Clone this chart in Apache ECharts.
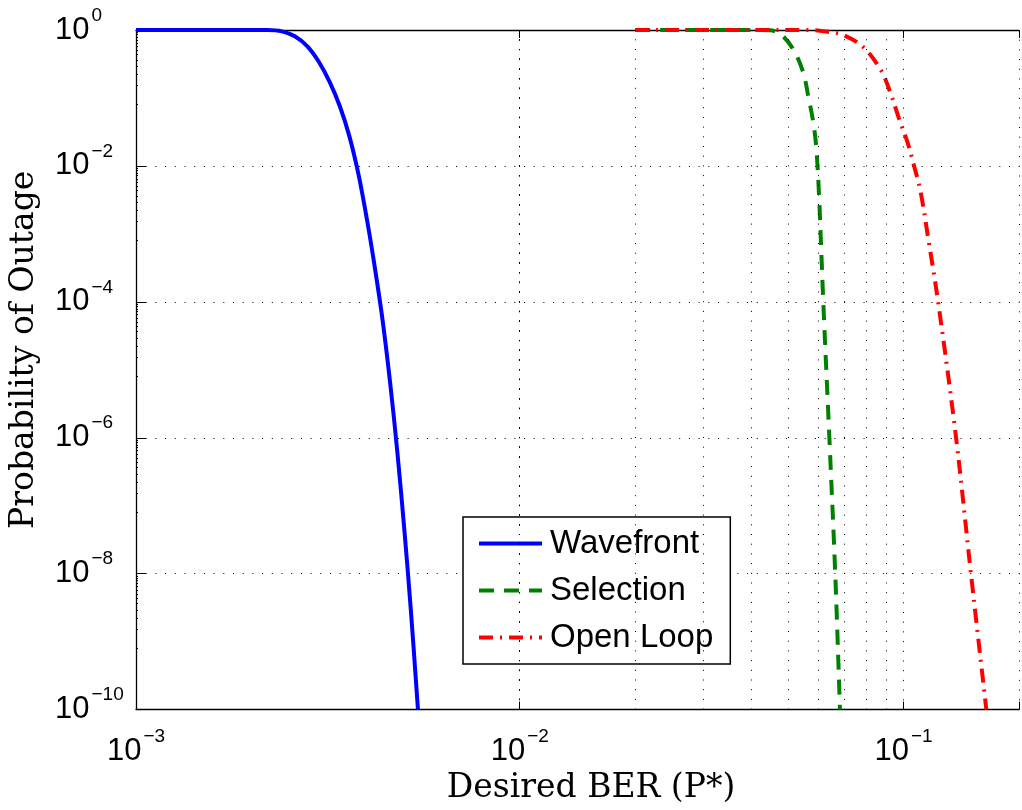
<!DOCTYPE html>
<html>
<head>
<meta charset="utf-8">
<script src="https://cdn.jsdelivr.net/npm/echarts@6/dist/echarts.min.js"></script>
<style>
  html, body { margin: 0; padding: 0; background: #fff; }
  #chart { width: 1022px; height: 810px; }
</style>
</head>
<body>
<div id="chart"></div>
<script>
// Outage probability versus the desired bit error rate for three schemes.
const waveBER  = [1e-3, 2e-3, 2.2e-3, 2.4e-3, 2.6e-3, 2.8e-3, 3.0e-3, 3.2e-3, 3.4e-3, 3.6e-3, 3.8e-3, 4.0e-3, 4.2e-3, 4.4e-3, 4.6e-3, 4.8e-3, 5.0e-3, 5.2e-3, 5.43e-3];
const wavePout = [1, 1, 0.999, 0.954, 0.80, 0.57, 0.336, 0.17, 0.075, 0.027, 7.5e-3, 1.6e-3, 2.98e-4, 4.94e-5, 6.08e-6, 6.0e-7, 4.65e-8, 3.02e-9, 1e-10];

const selBER   = [0.02, 0.04, 0.0448, 0.0481, 0.0517, 0.0548, 0.0565, 0.0582, 0.0593, 0.0603, 0.0618, 0.0641, 0.0664, 0.0683];
const selPout  = [1, 1, 0.99, 0.845, 0.51, 0.236, 0.105, 0.0439, 0.0177, 3.3e-3, 1e-4, 1e-6, 1e-8, 1e-10];

const olBER    = [0.02, 0.0575, 0.064, 0.0696, 0.0784, 0.0872, 0.0922, 0.0975, 0.1028, 0.1064, 0.1108, 0.1160, 0.1231, 0.1371, 0.1499, 0.1644];
const olPout   = [1, 1, 0.935, 0.845, 0.565, 0.261, 0.1244, 0.0485, 0.021, 0.01034, 4.17e-3, 8.6e-4, 1e-4, 1e-6, 1e-8, 1e-10];

const seriesNames = ['Wavefront', 'Selection', 'Open Loop'];
const xTitle = 'Desired BER (P*)';
const yTitle = 'Probability of Outage';

// intermediate decade gridlines (2..9 x 10^k)
const minorGridX = [2e-3, 3e-3, 4e-3, 5e-3, 6e-3, 7e-3, 8e-3, 9e-3,
                    2e-2, 3e-2, 4e-2, 5e-2, 6e-2, 7e-2, 8e-2, 9e-2];

function pairs(xs, ys) { return xs.map((x, i) => [x, ys[i]]); }

function powLabel(v) {
  const lg = Math.log10(v);
  const e = Math.round(lg);
  if (Math.abs(lg - e) > 1e-6) return '';
  const s = e < 0 ? '\u2212' + (-e) : String(e);
  return '{b|10}{e|' + s + '}';
}

const LABEL_FONT = 'Liberation Sans, Arial, Helvetica, sans-serif';
const TITLE_FONT = 'DejaVu Serif, Liberation Serif, serif';

// "10" fills a 30px line; the exponent is centred on the top edge of that line
const powRich = {
  b: { fontSize: 31, fontFamily: LABEL_FONT, color: '#000', lineHeight: 30, height: 30, verticalAlign: 'bottom' },
  e: { fontSize: 19, fontFamily: LABEL_FONT, color: '#000', lineHeight: 1, height: 1, verticalAlign: 'top', padding: [0, 0, 0, 2] }
};

const dotted = [1, 8.7];

const chart = echarts.init(document.getElementById('chart'), null, { renderer: 'canvas' });

chart.setOption({
  animation: false,
  backgroundColor: '#fff',
  grid: { left: 134, top: 30, width: 890, height: 685, containLabel: false },
  legend: {
    data: seriesNames,
    orient: 'vertical',
    left: 463,
    top: 517,
    padding: [10, 17, 10, 14],
    itemGap: 14,
    itemWidth: 63,
    itemHeight: 2,
    selectedMode: false,
    backgroundColor: '#fff',
    borderColor: '#000',
    borderWidth: 1.5,
    borderRadius: 0,
    itemStyle: { opacity: 0 },
    lineStyle: { width: 4 },
    textStyle: { fontSize: 33, fontFamily: LABEL_FONT, color: '#000', lineHeight: 32, padding: [0, 0, 0, 3] }
  },
  xAxis: [
    {
      type: 'log', logBase: 10, min: 1e-3, max: 0.2,
      name: xTitle, nameLocation: 'middle', nameGap: 50,
      nameTextStyle: { fontSize: 33, fontFamily: TITLE_FONT, color: '#000', padding: [0, 0, 0, 27] },
      axisLine: { show: true, onZero: false, lineStyle: { color: '#000', width: 1.3 } },
      axisTick: { show: true, inside: true, length: 8, lineStyle: { color: '#000', width: 1 } },
      axisLabel: { show: true, margin: 27, formatter: powLabel, rich: powRich },
      splitLine: { show: true, lineStyle: { color: '#000', width: 1, type: dotted } }
    },
    {
      type: 'log', logBase: 10, min: 1e-3, max: 0.2, position: 'top',
      axisLine: { show: true, onZero: false, lineStyle: { color: '#000', width: 1.3 } },
      axisTick: { show: true, inside: true, length: 8, lineStyle: { color: '#000', width: 1 } },
      axisLabel: { show: false },
      splitLine: { show: false }
    }
  ],
  yAxis: {
    type: 'log', logBase: 10, min: 1e-10, max: 1, interval: 2,
    name: yTitle, nameLocation: 'middle', nameGap: 95, nameRotate: 90,
    nameTextStyle: { fontSize: 33, fontFamily: TITLE_FONT, color: '#000', padding: [0, 0, 0, 40] },
    axisLine: { show: true, onZero: false, lineStyle: { color: '#000', width: 1.3 } },
    axisTick: { show: true, inside: true, length: 10, lineStyle: { color: '#000', width: 1 } },
    minorTick: { show: true, splitNumber: 14, length: 2, lineStyle: { color: '#000', width: 1 } },
    axisLabel: { show: true, align: 'left', margin: 81, formatter: powLabel, rich: powRich },
    splitLine: { show: true, lineStyle: { color: '#000', width: 1, type: dotted } }
  },
  series: [
    {
      // minor vertical gridlines
      type: 'line', name: 'grid', data: [], z: 1, silent: true,
      markLine: {
        silent: true, symbol: ['none', 'none'], animation: false,
        label: { show: false },
        lineStyle: { color: '#000', width: 1, type: dotted },
        data: minorGridX.map(v => ({ xAxis: v }))
      }
    },
    {
      type: 'line', name: seriesNames[0], data: pairs(waveBER, wavePout),
      symbol: 'none', showSymbol: false, smooth: 0.35, z: 3,
      lineStyle: { color: '#0000ff', width: 4, type: 'solid' },
      itemStyle: { color: '#0000ff' }
    },
    {
      type: 'line', name: seriesNames[1], data: pairs(selBER, selPout),
      symbol: 'none', showSymbol: false, smooth: 0.35, z: 3,
      lineStyle: { color: '#008000', width: 4, type: [15, 10], cap: 'butt' },
      itemStyle: { color: '#008000' }
    },
    {
      type: 'line', name: seriesNames[2], data: pairs(olBER, olPout),
      symbol: 'none', showSymbol: false, smooth: 0.35, z: 3,
      lineStyle: { color: '#ff0000', width: 4, type: [14, 7, 2, 7], cap: 'butt' },
      itemStyle: { color: '#ff0000' }
    }
  ]
});
</script>
</body>
</html>
